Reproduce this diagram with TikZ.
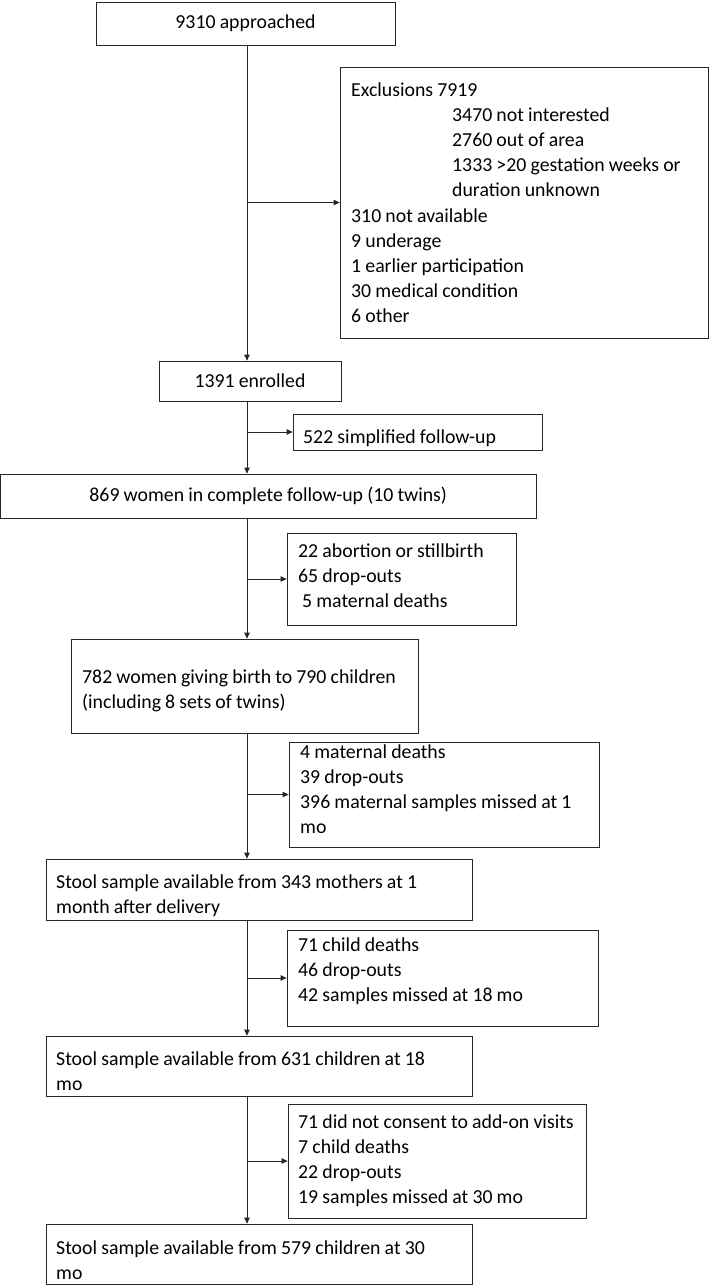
\documentclass[tikz,border=0pt]{standalone}
\usepackage{fontspec}
\setmainfont{Carlito}
\usepackage{tikz}
\usetikzlibrary{arrows.meta}

\begin{document}
\begin{tikzpicture}[x=1pt,y=1pt]
\tikzstyle{every node}+=[inner sep=0pt, font=\fontsize{19.8}{25.2}\selectfont, execute at begin node={\spaceskip=0.21em\relax}]
\tikzstyle{box}=[draw=black!85, line width=0.8pt, rectangle]
\tikzstyle{txt}=[anchor=base west, text width=420pt]
\tikzstyle{arr}=[draw=black!85, line width=0.8pt, -{Triangle[length=6pt,width=5.5pt]}]
\useasboundingbox (0,0) rectangle (709,-1286);
\coordinate (spine) at (247,0);
\node [box, minimum width=299, minimum height=43] (app) at (245.5,-23.5) {9310 approached};
\node [box, minimum width=368, minimum height=271] (excl) at (524,-202.5) {};
\node [txt] (excl-t) at (351,-96) {Exclusions 7919\\
\hspace*{101pt}3470 not interested\\
\hspace*{101pt}2760 out of area\\
\hspace*{101pt}1333 >20 gestation weeks or\\
\hspace*{101pt}duration unknown\\
310 not available\\
9 underage\\
1 earlier participation\\
30 medical condition\\
6 other};
\node [box, minimum width=182, minimum height=40] (enr) at (250,-381) {1391 enrolled};
\node [box, minimum width=249, minimum height=36] (simp) at (417.5,-432) {};
\node [txt] (simp-t) at (303,-443) {522 simplified follow-up};
\node [box, minimum width=535.5, minimum height=44] (cfu) at (268.25,-496) {869 women in complete follow-up (10 twins)};
\node [box, minimum width=229, minimum height=92] (loss1) at (401.5,-579) {};
\node [txt] (loss1-t) at (298,-557) {22 abortion or stillbirth\\
65 drop-outs\\
\hspace*{4pt}5 maternal deaths};
\node [box, minimum width=347, minimum height=94] (birth) at (244.5,-686) {};
\node [txt] (birth-t) at (82,-683) {782 women giving birth to 790 children\\
(including 8 sets of twins)};
\node [box, minimum width=310, minimum height=105] (loss2) at (444,-794.5) {};
\node [txt] (loss2-t) at (300,-758) {4 maternal deaths\\
39 drop-outs\\
396 maternal samples missed at 1\\
mo};
\node [box, minimum width=426, minimum height=61] (mom1) at (259,-889.5) {};
\node [txt] (mom1-t) at (56,-888) {Stool sample available from 343 mothers at 1\\
month after delivery};
\node [box, minimum width=311, minimum height=96] (loss3) at (442.5,-978) {};
\node [txt] (loss3-t) at (298,-951) {71 child deaths\\
46 drop-outs\\
42 samples missed at 18 mo};
\node [box, minimum width=426, minimum height=60] (ch18) at (259,-1066) {};
\node [txt] (ch18-t) at (56,-1065) {Stool sample available from 631 children at 18\\
mo};
\node [box, minimum width=298, minimum height=114] (loss4) at (437,-1161) {};
\node [txt] (loss4-t) at (298,-1128) {71 did not consent to add-on visits\\
7 child deaths\\
22 drop-outs\\
19 samples missed at 30 mo};
\node [box, minimum width=426, minimum height=60] (ch30) at (259,-1254) {};
\node [txt] (ch30-t) at (56,-1254) {Stool sample available from 579 children at 30\\
mo};
\draw [arr] (app.south -| spine) -- (enr.north -| spine);
\draw [arr] (spine |- excl.west) -- (excl.west);
\draw [arr] (enr.south -| spine) -- (cfu.north -| spine);
\draw [arr] (spine |- simp.west) -- (simp.west);
\draw [arr] (cfu.south -| spine) -- (birth.north -| spine);
\draw [arr] (spine |- loss1.west) -- (loss1.west);
\draw [arr] (birth.south -| spine) -- (mom1.north -| spine);
\draw [arr] (spine |- loss2.west) -- (loss2.west);
\draw [arr] (mom1.south -| spine) -- (ch18.north -| spine);
\draw [arr] (spine |- loss3.west) -- (loss3.west);
\draw [arr] (ch18.south -| spine) -- (ch30.north -| spine);
\draw [arr] (spine |- loss4.west) -- (loss4.west);
\end{tikzpicture}
\end{document}
